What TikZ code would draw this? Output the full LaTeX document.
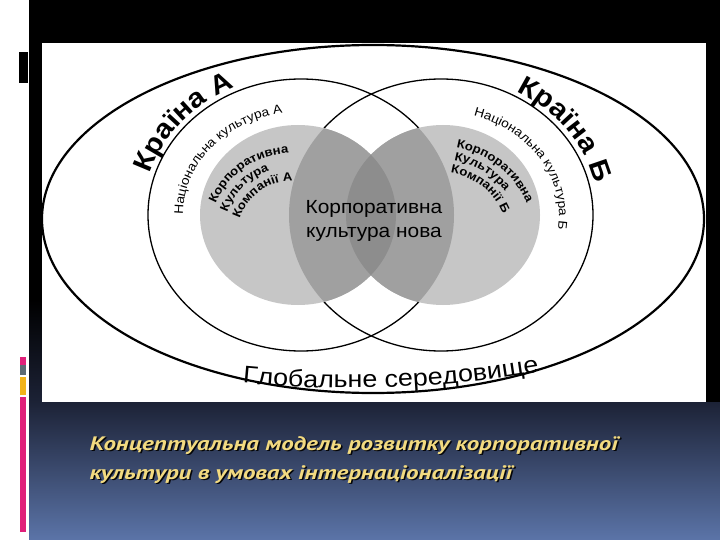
\documentclass[tikz,border=0pt]{standalone}
\usepackage{fontspec}
\setmainfont{Liberation Sans}
\newfontfamily\dsans[FakeStretch=1.1]{Liberation Sans}
\newfontfamily\gsans[FakeStretch=1.12]{Liberation Sans}
\newfontfamily\capfont[FakeStretch=1.28]{PT Sans}
\usetikzlibrary{decorations.text,calc}
\definecolor{navytop}{HTML}{1C2236}
\definecolor{navybot}{HTML}{5B74A8}
\definecolor{pinkbar}{HTML}{E0207A}
\definecolor{graybar}{HTML}{5C6A74}
\definecolor{yellowbar}{HTML}{F2B41A}
\definecolor{greyL}{HTML}{C6C6C6}
\definecolor{greyM}{HTML}{A0A0A0}
\definecolor{greyD}{HTML}{8D8D8D}
\definecolor{capyellow}{HTML}{F2DA80}
\tikzset{
  bigcirc/.style={line width=1.3pt},
  outerline/.style={line width=2.2pt},
  captext/.style={anchor=base west, font=\capfont\bfseries\itshape\fontsize{19.5}{24}\selectfont},
}
\begin{document}
\begin{tikzpicture}[x=1pt,y=1pt]
\useasboundingbox (0,0) rectangle (720,-540);
% background
\fill[white] (0,0) rectangle (720,-540);
\fill[black] (29,0) rectangle (720,-402);
\shade[top color=black, bottom color=navytop] (29,-300) rectangle (42,-402);
\shade[top color=navytop, bottom color=navybot] (29,-402) rectangle (720,-540);
% left decor
\fill[black] (19,-52) rectangle (28,-83);
\fill[pinkbar] (20,-357) rectangle (26,-365);
\fill[graybar] (20,-365) rectangle (26,-375);
\fill[yellowbar] (20,-377) rectangle (26,-395);
\fill[pinkbar] (20,-397) rectangle (26,-532);
% picture area
\fill[white] (42,-43) rectangle (706,-402);
\begin{scope}
\clip (42,-43) rectangle (706,-402);
\draw[outerline] (373,-219) ellipse [x radius=331, y radius=174];
\end{scope}
% national culture circles
\draw[bigcirc] (301,-215) ellipse [x radius=153, y radius=136];
\draw[bigcirc] (441,-215) ellipse [x radius=152, y radius=136];
% corporate culture circles
\fill[greyL] (298,-215) ellipse [x radius=98, y radius=90];
\fill[greyL] (443,-215) ellipse [x radius=97, y radius=90];
\begin{scope}
\clip (441,-215) ellipse [x radius=152, y radius=136];
\fill[greyM] (298,-215) ellipse [x radius=98, y radius=90];
\end{scope}
\begin{scope}
\clip (301,-215) ellipse [x radius=153, y radius=136];
\fill[greyM] (443,-215) ellipse [x radius=97, y radius=90];
\end{scope}
\begin{scope}
\clip (298,-215) ellipse [x radius=98, y radius=90];
\fill[greyD] (443,-215) ellipse [x radius=97, y radius=90];
\end{scope}
% centre text
\node[font=\dsans\fontsize{19}{23.5}\selectfont, align=center] (newc) at (374,-221) {Корпоративна\\культура нова};
% country labels
\path[decorate, decoration={text along path, text align=center,
  text={|\dsans\bfseries\fontsize{27}{27}\selectfont|Країна А}}]
  ($(301,-215)+(175:158 and 141)$) arc[start angle=175, end angle=104, x radius=158, y radius=141];
\path[decorate, decoration={text along path, text align=center,
  text={|\dsans\bfseries\fontsize{27}{27}\selectfont|Країна Б}}]
  ($(441,-215)+(72:158 and 141)$) arc[start angle=72, end angle=1, x radius=158, y radius=141];
% national culture labels
\path[decorate, decoration={text along path, text align=center,
  text={|\dsans\fontsize{12.5}{12.5}\selectfont|Національна культура А}}]
  ($(301,-215)+(190:118 and 103)$) arc[start angle=190, end angle=90, x radius=118, y radius=103];
\path[decorate, decoration={text along path, text align=center,
  text={|\dsans\fontsize{12.5}{12.5}\selectfont|Національна культура Б}}]
  ($(441,-215)+(83:118 and 103)$) arc[start angle=83, end angle=-18, x radius=118, y radius=103];
% corporate culture A
\path[decorate, decoration={text along path,
  text={|\dsans\bfseries\fontsize{12}{12}\selectfont|Корпоративна}}]
  ($(292,-236)+(157:83)$) arc[start angle=157, end angle=40, radius=83];
\path[decorate, decoration={text along path,
  text={|\dsans\bfseries\fontsize{12}{12}\selectfont|Культура}}]
  ($(292,-236)+(160:69)$) arc[start angle=160, end angle=40, radius=69];
\path[decorate, decoration={text along path,
  text={|\dsans\bfseries\fontsize{12}{12}\selectfont|Компанії А}}]
  ($(292,-236)+(162:55)$) arc[start angle=162, end angle=20, radius=55];
% corporate culture B
\path[decorate, decoration={text along path,
  text={|\dsans\bfseries\fontsize{12}{12}\selectfont|Корпоративна}}]
  ($(440,-240)+(80:94)$) arc[start angle=80, end angle=-40, radius=94];
\path[decorate, decoration={text along path,
  text={|\dsans\bfseries\fontsize{12}{12}\selectfont|Культура}}]
  ($(440,-240)+(80:81)$) arc[start angle=80, end angle=-40, radius=81];
\path[decorate, decoration={text along path,
  text={|\dsans\bfseries\fontsize{12}{12}\selectfont|Компанії Б}}]
  ($(440,-240)+(81:68)$) arc[start angle=81, end angle=-50, radius=68];
% global environment
\path[decorate, decoration={text along path, text align=center,
  text={|\gsans\fontsize{24}{24}\selectfont|Глобальне середовище}}]
  ($(350,739)+(262.1:1127)$) arc[start angle=262.1, end angle=282.1, radius=1127];
% caption
\node[captext, text=black!85!navytop] (cap1s) at (87.5,-451.5) {Концептуальна модель розвитку корпоративної};
\node[captext, text=capyellow] (cap1) at (86,-450) {Концептуальна модель розвитку корпоративної};
\node[captext, text=black!85!navytop] (cap2s) at (87.5,-480.5) {культури в умовах інтернаціоналізації};
\node[captext, text=capyellow] (cap2) at (86,-479) {культури в умовах інтернаціоналізації};
\end{tikzpicture}
\end{document}
